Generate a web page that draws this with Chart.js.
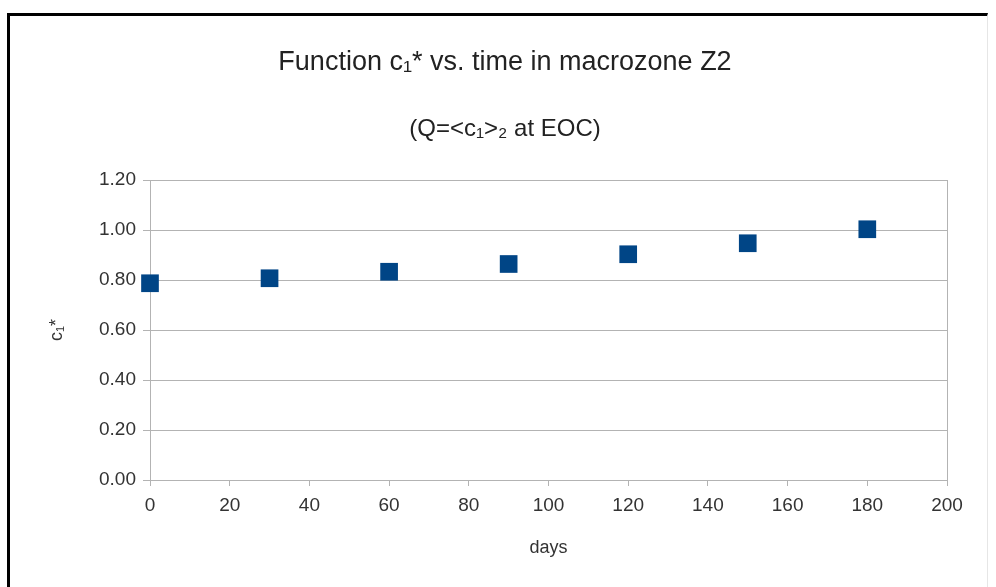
<!DOCTYPE html>
<html>
<head>
<meta charset="utf-8">
<script src="https://cdn.jsdelivr.net/npm/chart.js@4/dist/chart.umd.min.js"></script>
<style>
  html, body { margin: 0; padding: 0; background: #fff; }
  .wrap { position: relative; width: 996px; height: 587px; overflow: hidden; }
  .frame {
    position: absolute; left: 7px; top: 13px; right: 8px; bottom: -4px;
    border-top: 3px solid #000; border-left: 3px solid #000;
    border-right: 1px solid #e6e6e6;
    pointer-events: none;
  }
  canvas { position: absolute; left: 0; top: 0; }
</style>
</head>
<body>
<div class="wrap">
  <canvas id="chart" width="996" height="587"></canvas>
  <div class="frame"></div>
</div>
<script>
  const days = [0, 30, 60, 90, 120, 150, 180];
  const c1Star = [0.787, 0.807, 0.833, 0.864, 0.903, 0.947, 1.003];
  const xTicks = [0, 20, 40, 60, 80, 100, 120, 140, 160, 180, 200];
  const yTicks = [0, 0.2, 0.4, 0.6, 0.8, 1.0, 1.2];

  const titleText = "Function c\u2081* vs. time in macrozone Z2";
  const subtitleText = "(Q=<c\u2081>\u2082 at EOC)";

  const gridGray = "#b3b3b3";
  const labelColor = "#333333";
  const fontFamily = "'Liberation Sans', Arial, sans-serif";

  const ctx = document.getElementById("chart").getContext("2d");

  new Chart(ctx, {
    type: "scatter",
    data: {
      datasets: [
        {
          data: days.map((d, i) => ({ x: d, y: c1Star[i] })),
          pointStyle: "rect",
          pointRadius: 12.5,
          pointHoverRadius: 12.5,
          backgroundColor: "#004586",
          borderWidth: 0,
          clip: false
        }
      ]
    },
    options: {
      responsive: false,
      animation: false,
      layout: { padding: { left: 14, right: 0, top: 0, bottom: 0 } },
      plugins: {
        legend: { display: false },
        tooltip: { enabled: false },
        title: {
          display: true,
          text: titleText,
          color: "#222222",
          font: { family: fontFamily, size: 27, weight: "normal" },
          padding: { top: 46.8, bottom: 0 }
        },
        subtitle: {
          display: true,
          text: subtitleText,
          color: "#222222",
          font: { family: fontFamily, size: 24, weight: "normal" },
          padding: { top: 35.4, bottom: 36.6 }
        }
      },
      scales: {
        x: {
          type: "linear",
          min: xTicks[0],
          max: xTicks[xTicks.length - 1],
          afterBuildTicks(scale) {
            scale.ticks = xTicks.map(v => ({ value: v }));
          },
          afterFit(scale) {
            scale.height = 107;
          },
          grid: {
            color: "rgba(0,0,0,0)",
            tickColor: gridGray,
            tickLength: 6
          },
          border: { display: true, color: gridGray },
          ticks: {
            color: labelColor,
            padding: 8,
            maxRotation: 0,
            font: { family: fontFamily, size: 19 }
          },
          title: {
            display: true,
            text: "days",
            color: labelColor,
            font: { family: fontFamily, size: 18 },
            padding: { top: 0, bottom: 28.2 }
          }
        },
        y: {
          min: yTicks[0],
          max: yTicks[yTicks.length - 1],
          afterBuildTicks(scale) {
            scale.ticks = yTicks.map(v => ({ value: v }));
          },
          afterFit(scale) {
            scale.width = 136;
          },
          grid: { color: gridGray, tickColor: gridGray, tickLength: 7 },
          border: { display: true, color: gridGray },
          ticks: {
            color: labelColor,
            padding: 7,
            font: { family: fontFamily, size: 19 },
            callback: v => Number(v).toFixed(2)
          },
          title: {
            display: true,
            text: "c\u2081*",
            color: labelColor,
            font: { family: fontFamily, size: 18 },
            padding: { top: 32.2, bottom: 0 }
          }
        },
        yRight: {
          position: "right",
          min: yTicks[0],
          max: yTicks[yTicks.length - 1],
          afterFit(scale) {
            scale.width = 49;
          },
          grid: { display: false },
          border: { display: true, color: gridGray },
          ticks: { display: false }
        }
      }
    }
  });
</script>
</body>
</html>
